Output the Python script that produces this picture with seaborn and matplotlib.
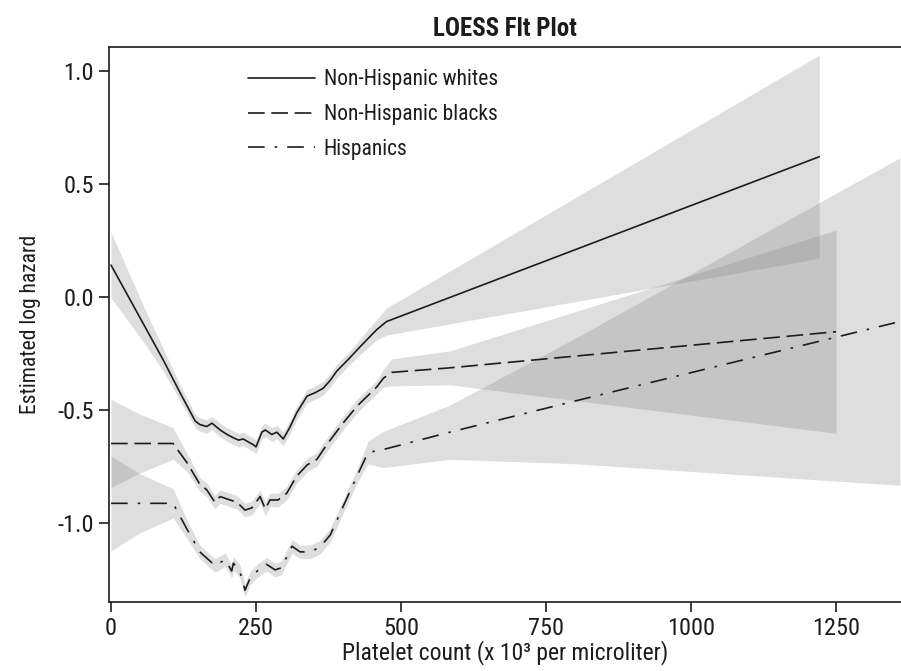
import numpy as np
import pandas as pd
import matplotlib
matplotlib.use("Agg")
import matplotlib.pyplot as plt
import seaborn as sns
from matplotlib import font_manager

# ---------------- data ----------------
groups = ["Non-Hispanic whites", "Non-Hispanic blacks", "Hispanics"]

white_x = [0, 30, 60, 90, 120, 145, 153, 165, 174, 188, 200, 211, 220, 228, 238, 245, 250,
           260, 266, 277, 286, 297, 308, 320, 338, 352, 366, 378, 389, 410, 430, 458, 475, 1221]
white_y = [0.14, 0.0, -0.14, -0.28, -0.43, -0.55, -0.566, -0.575, -0.56, -0.59, -0.61, -0.625,
           -0.635, -0.63, -0.645, -0.655, -0.665, -0.60, -0.59, -0.61, -0.60, -0.63, -0.58,
           -0.515, -0.44, -0.425, -0.405, -0.37, -0.33, -0.275, -0.22, -0.146, -0.11, 0.62]
white_hw = [0.145, 0.11, 0.075, 0.05, 0.035, 0.03, 0.03, 0.03, 0.03, 0.03, 0.03, 0.03,
            0.03, 0.03, 0.03, 0.03, 0.03, 0.03, 0.03, 0.03, 0.03, 0.03, 0.03,
            0.03, 0.03, 0.03, 0.03, 0.03, 0.03, 0.03, 0.035, 0.045, 0.06, 0.45]

black_x = [0, 50, 107, 131, 153, 165, 179, 188, 205, 217, 231, 243, 257, 266, 274, 288,
           303, 320, 338, 355, 372, 400, 424, 458, 470, 484, 584, 1250]
black_y = [-0.65, -0.65, -0.65, -0.735, -0.83, -0.855, -0.91, -0.885, -0.90, -0.91, -0.945,
           -0.935, -0.885, -0.94, -0.90, -0.90, -0.87, -0.795, -0.745, -0.72, -0.655, -0.56,
           -0.485, -0.40, -0.36, -0.335, -0.315, -0.155]
black_hw = [0.195, 0.13, 0.07, 0.04, 0.03, 0.03, 0.03, 0.03, 0.03, 0.03, 0.03,
            0.03, 0.03, 0.03, 0.03, 0.03, 0.03, 0.03, 0.03, 0.03, 0.03, 0.03,
            0.03, 0.03, 0.04, 0.06, 0.075, 0.45]

hisp_x = [0, 50, 107, 131, 153, 179, 197, 208, 211, 222, 231, 240, 254, 268, 283, 294,
          312, 326, 343, 360, 378, 400, 424, 443, 469, 584, 803, 1360]
hisp_y = [-0.915, -0.915, -0.915, -1.03, -1.13, -1.19, -1.165, -1.215, -1.18, -1.215, -1.30,
          -1.245, -1.21, -1.185, -1.21, -1.20, -1.105, -1.13, -1.13, -1.11, -1.055, -0.93,
          -0.795, -0.69, -0.677, -0.60, -0.46, -0.11]
hisp_hw = [0.21, 0.13, 0.065, 0.04, 0.03, 0.03, 0.03, 0.03, 0.03, 0.03, 0.03,
           0.03, 0.03, 0.03, 0.03, 0.03, 0.03, 0.03, 0.03, 0.03, 0.03, 0.03,
           0.03, 0.05, 0.08, 0.12, 0.28, 0.725]

x_ticks = [0, 250, 500, 750, 1000, 1250]
y_ticks = [-1.0, -0.5, 0.0, 0.5, 1.0]
y_tick_labels = ["-1.0", "-0.5", "0.0", "0.5", "1.0"]

# ---------------- fonts ----------------
names = {f.name for f in font_manager.fontManager.ttflist}
stretch = "normal"
if "Liberation Sans Narrow" in names:
    fam = "Liberation Sans Narrow"
elif "Roboto Condensed" in names:
    fam = "Roboto Condensed"
else:
    fam = "Liberation Sans"
    stretch = "condensed"

sns.set_theme(style="ticks")
plt.rcParams["font.family"] = [fam, "DejaVu Sans"]
plt.rcParams["axes.linewidth"] = 1.2

frames = []
for g, xs, ys, hs in [(groups[0], white_x, white_y, white_hw),
                      (groups[1], black_x, black_y, black_hw),
                      (groups[2], hisp_x, hisp_y, hisp_hw)]:
    frames.append(pd.DataFrame({"group": g, "x": xs, "y": ys, "hw": hs}))
df = pd.concat(frames, ignore_index=True)
df["lo"] = df["y"] - df["hw"]
df["hi"] = df["y"] + df["hw"]

fig = plt.figure(figsize=(9.01, 6.71), dpi=100)
ax = fig.add_axes([109 / 901, 1 - 602 / 671, 792 / 901, (602 - 47) / 671])

for g in groups:
    d = df[df["group"] == g]
    ax.fill_between(d["x"], d["lo"], d["hi"], color="#808080", alpha=0.26, lw=0, zorder=1)

dashes = {groups[0]: "", groups[1]: (10, 4), groups[2]: (10, 6, 1.5, 6)}
sns.lineplot(data=df, x="x", y="y", hue="group", style="group", dashes=dashes,
             palette={g: "#1c1c1c" for g in groups}, hue_order=groups, style_order=groups,
             sort=False, estimator=None, lw=1.2, ax=ax, zorder=3)

ax.set_xlim(-3.5, 1362)
ax.set_ylim(-1.352, 1.106)
ax.set_xticks(x_ticks)
ax.set_xticklabels([str(v) for v in x_ticks])
ax.set_yticks(y_ticks)
ax.set_yticklabels(y_tick_labels)
ax.tick_params(axis="both", direction="out", length=7, width=1.2, color="#1c1c1c",
               labelsize=17.5, labelcolor="#1c1c1c", pad=4)
for lab in ax.get_xticklabels() + ax.get_yticklabels():
    lab.set_fontstretch(stretch)
for s in ["left", "bottom", "top"]:
    ax.spines[s].set_color("#1c1c1c")
    ax.spines[s].set_visible(True)
ax.spines["right"].set_visible(False)

ax.set_xlabel("Platelet count (x 10³ per microliter)", fontsize=17, color="#1c1c1c",
              labelpad=0, fontstretch=stretch)
ax.set_ylabel("Estimated log hazard", fontsize=15.5, color="#1c1c1c", labelpad=12,
              fontstretch=stretch)
ax.set_title("LOESS Flt Plot", fontsize=18, fontweight="bold", color="#1c1c1c", pad=8,
             fontstretch=stretch)

handles, labels = ax.get_legend_handles_labels()
leg = ax.legend(handles, labels, loc="upper left", bbox_to_anchor=(0.165, 0.975),
                frameon=False, fontsize=15.5, handlelength=3.1, handletextpad=0.4,
                labelspacing=0.63, borderaxespad=0)
for t in leg.get_texts():
    t.set_color("#1c1c1c")
    t.set_fontstretch(stretch)

fig.savefig("out.png", dpi=100)
